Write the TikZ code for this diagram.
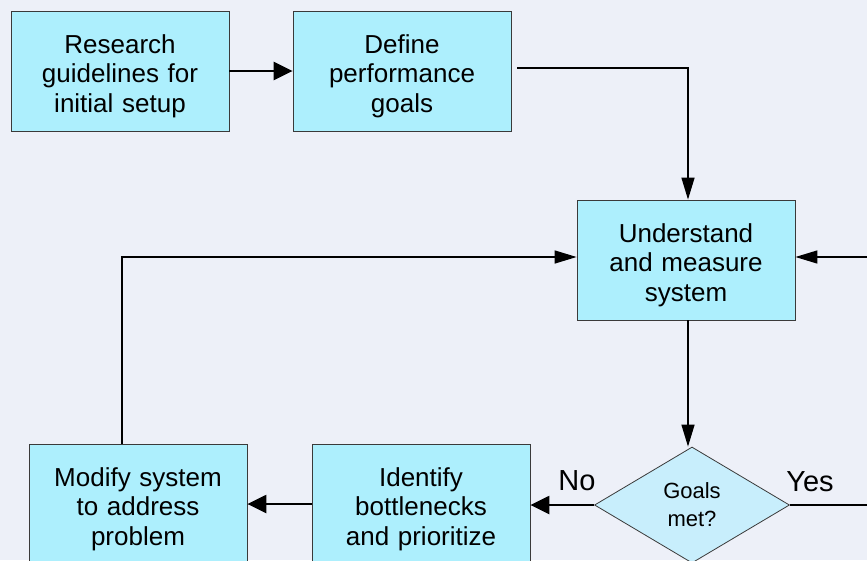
\documentclass[tikz,border=0pt]{standalone}
\usepackage{fontspec}
\setmainfont{Liberation Sans}
\usetikzlibrary{shapes.geometric,arrows.meta,positioning}
\definecolor{bgblue}{HTML}{EDF0F8}
\definecolor{boxcyan}{HTML}{ADEFFD}
\definecolor{diacyan}{HTML}{C8EEFC}
\definecolor{edgegray}{HTML}{3A3A3A}
\tikzset{%
  stepbox/.style={rectangle, draw=edgegray, line width=0.8pt, fill=boxcyan,
    minimum width=218pt, minimum height=120pt, text width=200pt, align=center,
    inner sep=0pt, text height=29pt, font=\fontsize{26}{29.5}\selectfont},
  decision/.style={diamond, draw=edgegray, line width=0.8pt, fill=diacyan,
    minimum width=195pt, minimum height=116pt, aspect=1.68, inner sep=0pt,
    align=center, font=\fontsize{22}{28}\selectfont},
  flow/.style={line width=1.4pt, -{Triangle[length=22pt,width=13pt]}},
  flow thick/.style={line width=2.4pt, -{Triangle[length=19pt,width=18pt]}},
  branch/.style={font=\fontsize{29}{30}\selectfont}
}
\begin{document}
\begin{tikzpicture}[x=1pt,y=-1pt]
    \fill[bgblue] (0,0) rectangle (867,560);
    \useasboundingbox (0,0) rectangle (867,560);

      \node[stepbox] (research) at (120,71) {Research\\guidelines for\\initial setup};
      \node[stepbox] (define) at (402,71) {Define\\performance\\goals};
      \node[stepbox] (understand) at (686,260) {Understand\\and measure\\system};
      \node[decision] (goals) at (692,505) {Goals\\met?};
      \node[stepbox] (identify) at (421,504) {Identify\\bottlenecks\\and prioritize};
      \node[stepbox] (modify) at (138,504) {Modify system\\to address\\problem};

      \node[branch] (lblno) at (577,481) {No};
      \node[branch] (lblyes) at (810,482) {Yes};

      \coordinate (rightin) at (867,257);
      \coordinate (loopcorner) at (122,257);
      \coordinate (yesout) at (867,503);

      \draw[flow thick] (research) -- (define);
      \draw[flow] ([xshift=6pt,yshift=3pt]define.east) -| ([xshift=2pt]understand.north);
      \draw[flow] (rightin) -- (understand.east |- rightin);
      \draw[flow] ([xshift=2pt]understand.south) -- ([xshift=2pt]understand.south |- goals.north);
      \draw[flow thick] (goals.west) -- (identify.east |- goals.west);
      \draw[flow thick] (identify) -- (modify);
      \draw[line width=2.4pt] (modify.north -| loopcorner) -- (loopcorner);
      \draw[flow] ([xshift=-1.2pt]loopcorner) -- (understand.west |- loopcorner);
      \draw[line width=2.4pt] (goals.east) -- (goals.east -| yesout);

  \end{tikzpicture}
\end{document}
